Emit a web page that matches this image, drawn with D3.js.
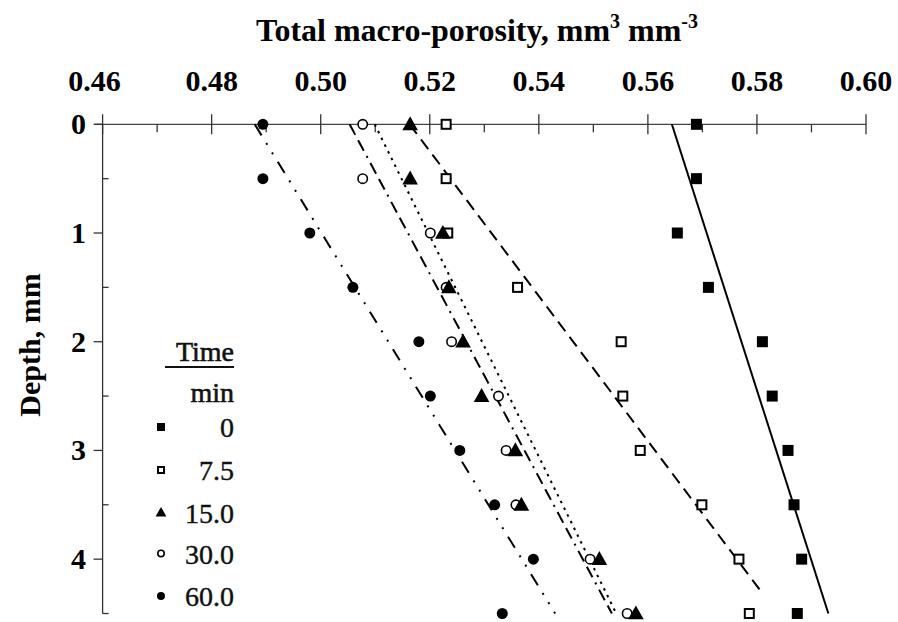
<!DOCTYPE html>
<html><head><meta charset="utf-8">
<script src="https://cdn.jsdelivr.net/npm/d3@7"></script>
<style>body{margin:0;background:#fff}</style>
</head><body>
<svg id="c" width="898" height="622"></svg>
<script>
// ---- data ----
const depths = [0, 0.5, 1, 1.5, 2, 2.5, 3, 3.5, 4, 4.5];
const por0   = [0.5689, 0.5689, 0.5654, 0.5711, 0.5810, 0.5828, 0.5857, 0.5868, 0.5882, 0.5874];
const por7_5 = [0.5230, 0.5230, 0.5233, 0.5361, 0.5551, 0.5554, 0.5586, 0.5699, 0.5767, 0.5786];
const por15  = [0.5164, 0.5164, 0.5224, 0.5235, 0.5261, 0.5295, 0.5357, 0.5368, 0.5511, 0.5578];
const por30  = [0.5077, 0.5077, 0.5201, 0.5230, 0.5240, 0.5326, 0.5340, 0.5358, 0.5494, 0.5562];
const por60  = [0.4894, 0.4894, 0.4980, 0.5059, 0.5180, 0.5201, 0.5255, 0.5319, 0.5390, 0.5333];
// fitted trend lines: [porosity, depth] at start and end
const fit0   = [[0.5644, 0], [0.5931, 4.5]];
const fit7_5 = [[0.5163, 0], [0.5808, 4.3]];
const fit15  = [[0.5099, 0], [0.5542, 4.5]];
const fit30  = [[0.5053, 0], [0.5534, 4.5]];
const fit60  = [[0.4879, 0], [0.5430, 4.5]];
const timeLabels = ["0", "7.5", "15.0", "30.0", "60.0"];
const xTicks = [0.46, 0.48, 0.50, 0.52, 0.54, 0.56, 0.58, 0.60];
const yTicks = [0, 1, 2, 3, 4];

const svg = d3.select("#c");
const x = d3.scaleLinear().domain([0.46, 0.60]).range([102.6, 866]);
const y = d3.scaleLinear().domain([0, 4.5]).range([124.3, 613.5]);
const axisFont = "'Liberation Serif','Times New Roman',serif";

// top axis
const gx = svg.append("g").attr("transform", `translate(0,${y(0)})`);
const xMinor = d3.range(0.47, 0.60, 0.02);
gx.append("line").attr("x1", 95).attr("x2", x(0.60)).attr("stroke", "#444").attr("stroke-width", 1.3);
gx.selectAll(".mj").data(xTicks).join("line")
  .attr("x1", d => x(d)).attr("x2", d => x(d)).attr("y1", -10).attr("y2", 10)
  .attr("stroke", "#333").attr("stroke-width", 1.3);
gx.selectAll(".mn").data(xMinor).join("line")
  .attr("x1", d => x(d)).attr("x2", d => x(d)).attr("y1", 0).attr("y2", 8)
  .attr("stroke", "#333").attr("stroke-width", 1.3);
svg.append("g").selectAll("text").data(xTicks).join("text")
  .attr("x", d => x(d) - (d === 0.46 ? 8 : 0)).attr("y", 91).attr("text-anchor", "middle")
  .attr("font-family", axisFont).attr("font-weight", "bold").attr("font-size", 30)
  .text(d => d3.format(".2f")(d));

// left axis
const gy = svg.append("g").attr("transform", `translate(${x(0.46)},0)`);
gy.append("line").attr("y1", y(0)).attr("y2", y(4.5)).attr("stroke", "#333").attr("stroke-width", 1.3);
gy.selectAll(".mj").data(yTicks).join("line")
  .attr("y1", d => y(d)).attr("y2", d => y(d)).attr("x1", -9).attr("x2", 0)
  .attr("stroke", "#333").attr("stroke-width", 1.3);
gy.selectAll(".mn").data([0.5, 1.5, 2.5, 3.5, 4.5]).join("line")
  .attr("y1", d => y(d)).attr("y2", d => y(d)).attr("x1", 0).attr("x2", 6)
  .attr("stroke", "#333").attr("stroke-width", 1.3);
svg.append("g").selectAll("text").data(yTicks).join("text")
  .attr("x", 86).attr("y", d => y(d) + 10).attr("text-anchor", "end")
  .attr("font-family", axisFont).attr("font-weight", "bold").attr("font-size", 30)
  .text(d => d);

// titles
const t = svg.append("text").attr("x", 477).attr("y", 41).attr("text-anchor", "middle")
  .attr("font-family", axisFont).attr("font-weight", "bold").attr("font-size", 32);
t.append("tspan").text("Total macro-porosity, mm");
t.append("tspan").attr("dy", -13).attr("font-size", 20).text("3");
t.append("tspan").attr("dy", 13).text(" mm");
t.append("tspan").attr("dy", -13).attr("font-size", 20).text("-3");
svg.append("text").attr("transform", `translate(40,${345}) rotate(-90)`).attr("text-anchor", "middle")
  .attr("font-family", axisFont).attr("font-weight", "bold").attr("font-size", 30)
  .text("Depth, mm");

// trend lines
const line = d3.line().x(d => x(d[0])).y(d => y(d[1]));
const fits = [
  {d: fit0, dash: null},
  {d: fit7_5, dash: "12,7"},
  {d: fit15, dash: "2.5,5"},
  {d: fit30, dash: "12,6,12,6,2,6"},
  {d: fit60, dash: "13,9,2,9,2,9"}
];
svg.append("g").selectAll("path").data(fits).join("path")
  .attr("d", f => line(f.d)).attr("fill", "none").attr("stroke", "#000").attr("stroke-width", 2)
  .attr("stroke-dasharray", f => f.dash);

// markers
function marker(g, type, s) {
  if (type === "fsq") g.append("rect").attr("x", -s/2).attr("y", -s/2).attr("width", s).attr("height", s).attr("fill", "#000");
  if (type === "osq") g.append("rect").attr("x", -s/2 + 1).attr("y", -s/2 + 1).attr("width", s - 2).attr("height", s - 2).attr("fill", "#fff").attr("stroke", "#000").attr("stroke-width", 2);
  if (type === "tri") g.append("path").attr("d", `M0,${-s*0.62}L${s*0.6},${s*0.45}L${-s*0.6},${s*0.45}Z`).attr("fill", "#000");
  if (type === "oci") g.append("circle").attr("r", s/2 - 0.8).attr("fill", "#fff").attr("stroke", "#000").attr("stroke-width", 1.6);
  if (type === "fci") g.append("circle").attr("r", s/2).attr("fill", "#000");
}
const series = [
  {v: por0, m: "fsq"}, {v: por7_5, m: "osq"}, {v: por15, m: "tri"}, {v: por30, m: "oci"}, {v: por60, m: "fci"}
];
[series[0], series[1], series[4], series[3], series[2]].forEach(s => {
  const g = svg.append("g");
  s.v.forEach((v, i) => {
    const mg = g.append("g").attr("transform", `translate(${x(v)},${y(depths[i])})`);
    marker(mg, s.m, s.m === "tri" ? 13 : 11);
  });
});

// legend
const lf = "'Liberation Serif','Times New Roman',serif";
svg.append("text").attr("x", 234).attr("y", 361).attr("text-anchor", "end")
  .attr("font-family", lf).attr("font-size", 28).attr("fill", "#111")
  .attr("stroke", "#111").attr("stroke-width", 0.6).text("Time");
svg.append("line").attr("x1", 165).attr("x2", 234).attr("y1", 367).attr("y2", 367).attr("stroke", "#111").attr("stroke-width", 2.2);
svg.append("text").attr("x", 234).attr("y", 402).attr("text-anchor", "end")
  .attr("font-family", lf).attr("font-size", 28).attr("fill", "#111")
  .attr("stroke", "#111").attr("stroke-width", 0.6).text("min");
const rowsY = [427, 470, 512.5, 553.5, 596];
series.forEach((s, i) => {
  const mg = svg.append("g").attr("transform", `translate(161,${rowsY[i]})`);
  marker(mg, s.m, s.m === "tri" ? 9 : 8);
  svg.append("text").attr("x", 234).attr("y", rowsY[i] + 10).attr("text-anchor", "end")
    .attr("font-family", lf).attr("font-size", 28).attr("fill", "#111")
    .attr("stroke", "#111").attr("stroke-width", 0.4).text(timeLabels[i]);
});
</script>
</body></html>
